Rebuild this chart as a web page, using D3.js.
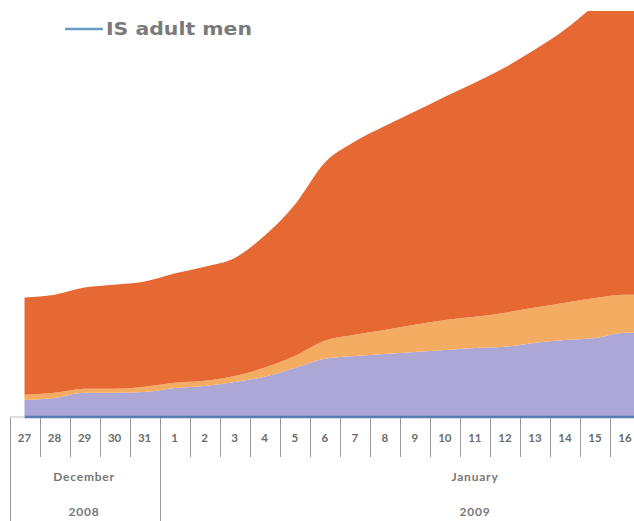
<!DOCTYPE html>
<html><head><meta charset="utf-8">
<script src="https://cdn.jsdelivr.net/npm/d3@7"></script>
<style>html,body{margin:0;padding:0;background:#fff;}svg{display:block;}</style>
</head><body>
<svg id="chart" width="634" height="521"></svg>
<script>
// ---- data ----
const days = ["27","28","29","30","31","1","2","3","4","5","6","7","8","9","10","11","12","13","14","15","16"];
const months = [
  {name:"December", year:"2008", from:0, to:4},
  {name:"January",  year:"2009", from:5, to:20}
];
const purpleSeries = [40,45,58,58,60,70,75,85,98,120,143,150,155,160,165,170,173,183,190,195,208];
const lightOrangeSeries = [13,13,10,10,13,13,13,15,23,30,45,53,60,68,75,78,85,88,93,100,95];
const orangeSeries = [243,245,253,260,263,273,285,295,330,378,445,483,510,533,558,585,613,645,683,733,793];
const legendLabel = "IS adult men";

const svg = d3.select("#chart");
const W = 634, H = 521;
const baseY = 416, plotTop = 11;

const x = d3.scaleBand().domain(days).range([9.5, 640]).paddingInner(0).paddingOuter(0);
const y = d3.scaleLinear().domain([0, 1000]).range([baseY, baseY - 400]);

const rows = days.map((d,i)=>({day:d, a:purpleSeries[i], b:lightOrangeSeries[i], c:orangeSeries[i]}));
const stack = d3.stack().keys(["a","b","c"]);
const series = stack(rows);
const colors = {a:"#aca7d5", b:"#f4ac62", c:"#e66833"};

svg.append("defs").append("clipPath").attr("id","clip")
  .append("rect").attr("x",0).attr("y",plotTop).attr("width",W).attr("height",baseY-plotTop);

const cx = (i) => x(days[i]) + x.bandwidth()/2;
const area = d3.area()
  .x(p => p.xx)
  .y0(p => y(p.s[0])).y1(p => y(p.s[1]))
  .curve(d3.curveMonotoneX);

const g = svg.append("g").attr("clip-path","url(#clip)");
series.forEach(s => {
  const pts = s.map((p,i)=>({xx:cx(i), s:p}));
  const last = pts[pts.length-1];
  pts.push({xx: W + 2, s:last.s});
  g.append("path").attr("d", area(pts)).attr("fill", colors[s.key]);
});

// baseline
svg.append("line").attr("x1", cx(0)).attr("x2", W).attr("y1", baseY+1).attr("y2", baseY+1)
  .attr("stroke","#5a7db5").attr("stroke-width",2.5);
svg.append("line").attr("x1", x(days[0])).attr("x2", cx(0)).attr("y1", baseY+1).attr("y2", baseY+1)
  .attr("stroke","#bbb").attr("stroke-width",1);

// column separators
const monthStarts = months.map(m => m.from);
days.forEach((d,i) => {
  const xx = Math.round(x(d)) + 0.5;
  const full = monthStarts.includes(i);
  svg.append("line").attr("x1",xx).attr("x2",xx).attr("y1",baseY+2).attr("y2", full ? H : 457)
    .attr("stroke","#9a9a9a").attr("stroke-width",1);
});

// tick labels
svg.append("g").selectAll("text").data(days).join("text")
  .attr("x", d => x(d) + x.bandwidth()/2).attr("y", 442)
  .attr("text-anchor","middle")
  .attr("font-family","Lato, 'DejaVu Sans', sans-serif").attr("font-weight","bold")
  .attr("font-size",11.5).attr("fill","#6b6b6b")
  .text(d => d);

// month and year labels
const monthX = [84, 475];
months.forEach((m,k) => {
  svg.append("text").attr("x", monthX[k]).attr("y", 481).attr("text-anchor","middle")
    .attr("font-family","Lato, 'DejaVu Sans', sans-serif").attr("font-weight","bold")
    .attr("font-size",12).attr("letter-spacing",0.8).attr("fill","#777").text(m.name);
  svg.append("text").attr("x", monthX[k]).attr("y", 516).attr("text-anchor","middle")
    .attr("font-family","Lato, 'DejaVu Sans', sans-serif").attr("font-weight","bold")
    .attr("font-size",12).attr("letter-spacing",0.8).attr("fill","#777").text(m.year);
});

// legend
svg.append("line").attr("x1",65).attr("x2",103).attr("y1",29).attr("y2",29)
  .attr("stroke","#6b9cc4").attr("stroke-width",2.5);
svg.append("text").attr("x",106).attr("y",35)
  .attr("font-family","'DejaVu Sans', sans-serif").attr("font-weight","bold")
  .attr("font-size",17).attr("fill","#7a7a7a")
  .attr("textLength",146).attr("lengthAdjust","spacingAndGlyphs")
  .text(legendLabel);
</script>
</body></html>
